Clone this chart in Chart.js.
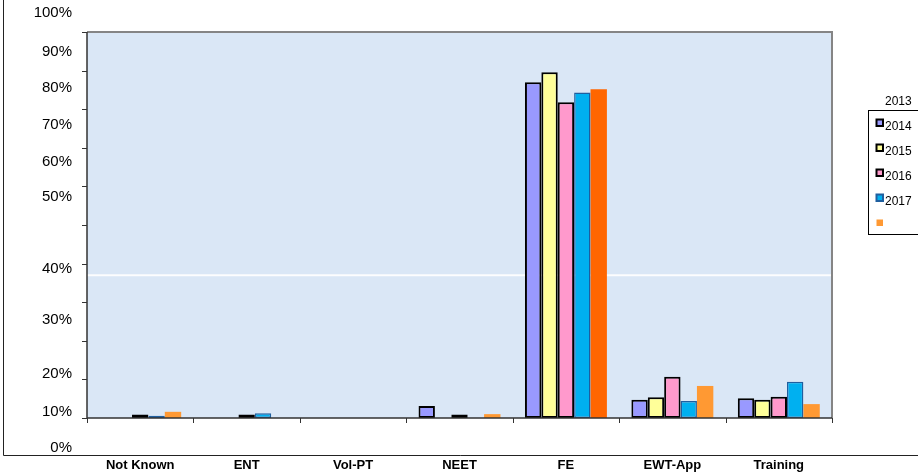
<!DOCTYPE html>
<html>
<head>
<meta charset="utf-8">
<script src="https://cdn.jsdelivr.net/npm/chart.js@4/dist/chart.umd.min.js"></script>
<style>
  html, body { margin:0; padding:0; background:#fff; }
  #wrap { width:918px; height:475px; }
</style>
</head>
<body>
<div id="wrap"><canvas id="chart" width="918" height="475"></canvas></div>
<script>
// Destinations by year (% of leavers)
const categories = ['Not Known', 'ENT', 'Vol-PT', 'NEET', 'FE', 'EWT-App', 'Training'];
const seriesNames = ['2013', '2014', '2015', '2016', '2017'];
const s2013 = [0, 0, 0, 3.1, 87.0, 4.7, 5.1];
const s2014 = [0, 0, 0, 0, 89.6, 5.4, 4.7];
const s2015 = [0.9, 0.9, 0, 0.9, 81.8, 10.7, 5.5];
const s2016 = [0.6, 1.2, 0, 0, 84.3, 4.4, 9.4];
const s2017 = [1.6, 0, 0, 1.0, 85.2, 8.3, 3.6];
const yTickLabels = ['100%', '90%', '80%', '70%', '60%', '50%', '40%', '30%', '20%', '10%', '0%'];

const FONT = '"Liberation Sans", Arial, sans-serif';
const fills = ['#9999ff', '#ffff99', '#ff99cc', '#00b0f0', '#ff9933'];
const edges = ['#000', '#000', '#000', '#1f5f9f', null];

// FE bar of 2017 is a darker orange in the source
const orangeFills = categories.map(c => c === 'FE' ? '#ff6600' : '#ff9933');

// label rows as the source places them (canvas px), top to bottom
const Y_LABEL_POS = [13, 52, 88, 125, 162, 197, 269, 320, 374, 412, 448];

const frame = {
  id: 'frame',
  beforeDraw(chart) {
    const { ctx, chartArea: a } = chart;
    const y = chart.scales.y;
    ctx.save();
    ctx.fillStyle = '#dae7f6';
    ctx.fillRect(a.left, a.top, a.right - a.left, a.bottom - a.top);
    // pale streak across the background
    ctx.strokeStyle = 'rgba(255,255,255,0.9)';
    ctx.lineWidth = 2;
    ctx.beginPath();
    ctx.moveTo(a.left, y.getPixelForValue(37));
    ctx.lineTo(a.right, y.getPixelForValue(37));
    ctx.stroke();
    ctx.restore();
  },
  afterDatasetsDraw(chart) {
    const { ctx, chartArea: a } = chart;
    const x = chart.scales.x, y = chart.scales.y;
    ctx.save();
    // outer frame
    ctx.strokeStyle = '#222';
    ctx.lineWidth = 1;
    ctx.beginPath();
    ctx.moveTo(3.5, 0); ctx.lineTo(3.5, 455.5); ctx.lineTo(918, 455.5);
    ctx.stroke();
    // plot border top/right
    ctx.strokeStyle = '#858585';
    ctx.lineWidth = 2;
    ctx.beginPath();
    ctx.moveTo(a.left, a.top); ctx.lineTo(a.right, a.top); ctx.lineTo(a.right, a.bottom);
    ctx.stroke();
    // axes
    ctx.strokeStyle = '#333';
    ctx.lineWidth = 1.5;
    ctx.beginPath();
    ctx.moveTo(a.left, a.top); ctx.lineTo(a.left, a.bottom); ctx.lineTo(a.right, a.bottom);
    ctx.stroke();
    ctx.lineWidth = 1;
    ctx.beginPath();
    for (let v = 0; v <= 100; v += 10) {
      const py = Math.round(y.getPixelForValue(v)) + 0.5;
      ctx.moveTo(a.left - 5, py); ctx.lineTo(a.left, py);
    }
    const step = (a.right - a.left) / categories.length;
    for (let i = 0; i <= categories.length; i++) {
      const px = Math.round(a.left + i * step) + 0.5;
      ctx.moveTo(px, a.bottom); ctx.lineTo(px, a.bottom + 5);
    }
    ctx.stroke();
    // y labels
    ctx.fillStyle = '#000';
    ctx.font = '15px ' + FONT;
    ctx.textAlign = 'right';
    ctx.textBaseline = 'middle';
    yTickLabels.forEach((t, i) => ctx.fillText(t, 72, Y_LABEL_POS[i]));
    // category labels
    ctx.font = 'bold 13px ' + FONT;
    ctx.textAlign = 'center';
    categories.forEach((c, i) => ctx.fillText(c, x.getPixelForValue(i), 465));
    // legend (names sit one row above their swatch, as in the source)
    ctx.font = '12px ' + FONT;
    ctx.textAlign = 'left';
    ctx.strokeStyle = '#000';
    ctx.lineWidth = 1;
    ctx.strokeRect(868.5, 110.5, 60, 124);
    seriesNames.forEach((n, i) => {
      ctx.fillStyle = '#000';
      ctx.fillText(n, 885, 102 + 25 * i);
      const my = 119.5 + 25 * i;
      ctx.fillStyle = fills[i];
      ctx.fillRect(876.5, my, 6.5, 6.5);
      if (edges[i]) {
        ctx.strokeStyle = edges[i];
        ctx.lineWidth = 2;
        ctx.strokeRect(876.5, my, 6.5, 6.5);
      }
    });
    ctx.restore();
  }
};

const values = [s2013, s2014, s2015, s2016, s2017];
const datasets = seriesNames.map((name, i) => ({
  label: name,
  data: values[i],
  backgroundColor: i === 4 ? orangeFills : fills[i],
  borderColor: edges[i] || 'rgba(0,0,0,0)',
  borderWidth: edges[i] ? (i === 3 ? 1.5 : 2) : 0,
  borderSkipped: false
}));

new Chart(document.getElementById('chart'), {
  type: 'bar',
  data: { labels: categories, datasets },
  options: {
    responsive: false,
    animation: false,
    layout: { padding: { left: 87, top: 32, right: 86, bottom: 57 } },
    datasets: { bar: { categoryPercentage: 0.77, barPercentage: 1.0 } },
    plugins: { legend: { display: false }, tooltip: { enabled: false } },
    scales: {
      x: { grid: { display: false, drawTicks: false }, border: { display: false }, ticks: { display: false } },
      y: { min: 0, max: 100, grid: { display: false, drawTicks: false }, border: { display: false }, ticks: { display: false } }
    }
  },
  plugins: [frame]
});
</script>
</body>
</html>
